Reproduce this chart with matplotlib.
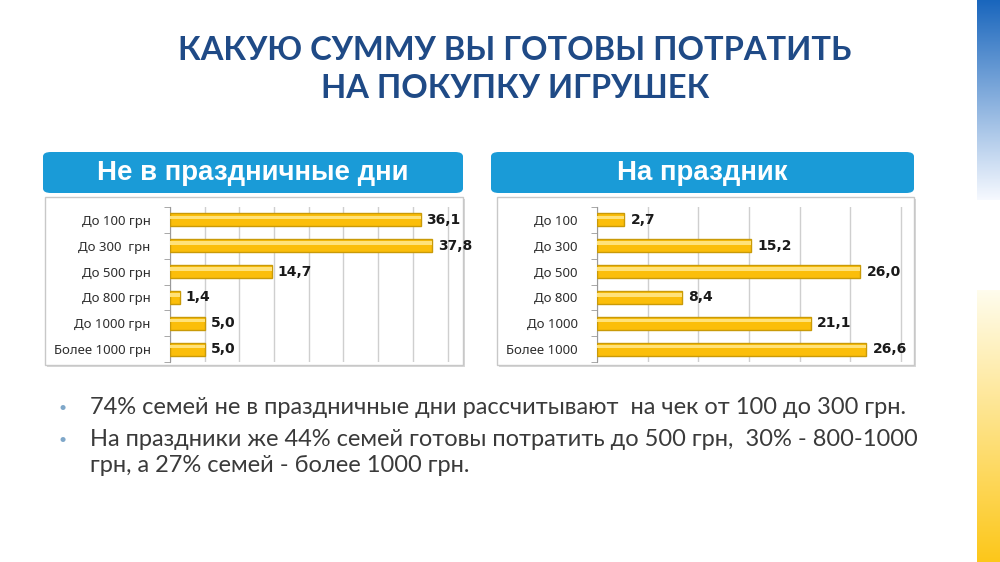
import matplotlib
matplotlib.use("Agg")
import matplotlib.pyplot as plt
import numpy as np
from matplotlib.patches import FancyBboxPatch, Rectangle

# ---- data ----
cats_left = ["До 100 грн", "До 300  грн", "До 500 грн", "До 800 грн", "До 1000 грн", "Более 1000 грн"]
vals_left = [36.1, 37.8, 14.7, 1.4, 5.0, 5.0]
cats_right = ["До 100", "До 300", "До 500", "До 800", "До 1000", "Более 1000"]
vals_right = [2.7, 15.2, 26.0, 8.4, 21.1, 26.6]
title_lines = ["КАКУЮ СУММУ ВЫ ГОТОВЫ ПОТРАТИТЬ", "НА ПОКУПКУ ИГРУШЕК"]
header_left = "Не в праздничные дни"
header_right = "На праздник"
bullets = [
    "74% семей не в праздничные дни рассчитывают  на чек от 100 до 300 грн.",
    "На праздники же 44% семей готовы потратить до 500 грн,  30% - 800-1000\nгрн, а 27% семей - более 1000 грн.",
]

W, H = 1000, 562
fig = plt.figure(figsize=(W / 100, H / 100), dpi=100)
fig.patch.set_facecolor("white")
renderer = fig.canvas.get_renderer()

def fx(x): return x / W
def fy(y): return 1 - y / H

def fit(t, target_px):
    bb = t.get_window_extent(renderer)
    t.set_fontsize(t.get_fontsize() * target_px / bb.width)

# right gradient strip
strip = fig.add_axes([fx(977), 0, fx(1000 - 977), 1])
grad = np.ones((H, 1, 3))
for i in range(H):
    if i < 200:
        a = i / 200.0
        c0 = np.array([0.10, 0.40, 0.74]); c1 = np.array([0.97, 0.98, 1.0])
        grad[i, 0] = c0 * (1 - a) + c1 * a
    elif i < 290:
        grad[i, 0] = [1, 1, 1]
    else:
        a = (i - 290) / (H - 290)
        c0 = np.array([1.0, 0.99, 0.93]); c1 = np.array([0.99, 0.78, 0.10])
        grad[i, 0] = c0 * (1 - a) + c1 * a
strip.imshow(grad, aspect="auto", extent=[0, 1, 0, 1])
strip.axis("off")

# title
title_color = "#1F4A86"
t1 = fig.text(fx(515), fy(51), title_lines[0], ha="center", va="center", fontsize=20,
              fontweight="bold", color=title_color, family="Lato")
fit(t1, 674)
t2 = fig.text(fx(515), fy(89), title_lines[1], ha="center", va="center",
              fontsize=t1.get_fontsize(), fontweight="bold", color=title_color, family="Lato")

# headers
hdr_texts = []
for (x0, x1, txt) in [(43, 463, header_left), (491, 914, header_right)]:
    p = FancyBboxPatch((fx(x0), fy(193)), fx(x1 - x0), (193 - 152) / H,
                       boxstyle="round,pad=0,rounding_size=0.008",
                       transform=fig.transFigure, facecolor="#1A9BD7",
                       edgecolor="none", zorder=2)
    fig.add_artist(p)
    hdr_texts.append(fig.text(fx((x0 + x1) / 2), fy(173), txt, ha="center", va="center",
                              fontsize=16.5, fontweight="bold", color="white",
                              family="Liberation Sans", zorder=3))
fit(hdr_texts[0], 312)
hdr_texts[1].set_fontsize(hdr_texts[0].get_fontsize())

# chart frames
for (x0, x1) in [(45, 463), (497, 914)]:
    sh = Rectangle((fx(x0 + 2), fy(367)), fx(x1 - x0), (367 - 199) / H,
                   transform=fig.transFigure, facecolor="#D8D8D8", edgecolor="none", zorder=1)
    fig.add_artist(sh)
    r = Rectangle((fx(x0), fy(365)), fx(x1 - x0), (365 - 197) / H,
                  transform=fig.transFigure, facecolor="white", edgecolor="#C8C8C8",
                  linewidth=1.0, zorder=1.5)
    fig.add_artist(r)

def draw_chart(rect, cats, vals, xmax, step, fs):
    x0, x1, y0, y1 = rect
    ax = fig.add_axes([fx(x0), fy(y1), fx(x1 - x0), (y1 - y0) / H], zorder=3)
    ax.set_facecolor("none")
    y = np.arange(len(cats))
    ax.barh(y, vals, height=0.5, color="#FBBE0A", edgecolor="#C99A08",
            linewidth=1.0, zorder=3)
    ax.barh(y - 0.1, vals, height=0.14, color="#FFE27A", edgecolor="none", zorder=4)
    ax.set_xlim(0, xmax)
    ax.set_ylim(len(cats) - 0.5, -0.5)
    ax.set_xticks(np.arange(0, xmax + 0.01, step))
    ax.xaxis.grid(True, color="#CFCFCF", linewidth=1.0, zorder=0)
    ax.set_axisbelow(True)
    ax.tick_params(axis="x", length=0, labelbottom=False)
    ax.set_yticks(y)
    ax.set_yticklabels(cats, fontsize=fs, color="#2E2E2E", family="Noto Sans")
    ax.tick_params(axis="y", length=0, pad=14)
    ax.set_yticks(np.arange(-0.5, len(cats), 1), minor=True)
    ax.tick_params(axis="y", which="minor", length=4, color="#9A9A9A")
    for s in ["top", "right", "bottom"]:
        ax.spines[s].set_visible(False)
    ax.spines["left"].set_color("#9A9A9A")
    for yi, v in zip(y, vals):
        ax.text(v + xmax * 0.02, yi, f"{v:.1f}".replace(".", ","), va="center",
                ha="left", fontsize=fs * 1.05, fontweight="bold", color="#1A1A1A",
                family="DejaVu Sans", zorder=5)
    return ax

draw_chart((170, 458, 207, 362), cats_left, vals_left, 41.5, 5, 9.5)
draw_chart((597, 907, 207, 362), cats_right, vals_right, 30.6, 5, 9.5)

# bullets
body_color = "#3A3A3A"
ys = [408, 440]
bts = []
for yb, txt in zip(ys, bullets):
    fig.text(fx(58), fy(yb), "•", ha="left", va="center", fontsize=10,
             color="#7FA7C9", family="Lato")
    bts.append(fig.text(fx(90), fy(yb) + 11 / H, txt, ha="left", va="top", fontsize=14,
                        color=body_color, family="Lato", linespacing=1.28))
fit(bts[0], 822)
bts[1].set_fontsize(bts[0].get_fontsize())

fig.savefig("out.png", dpi=100, facecolor="white")
